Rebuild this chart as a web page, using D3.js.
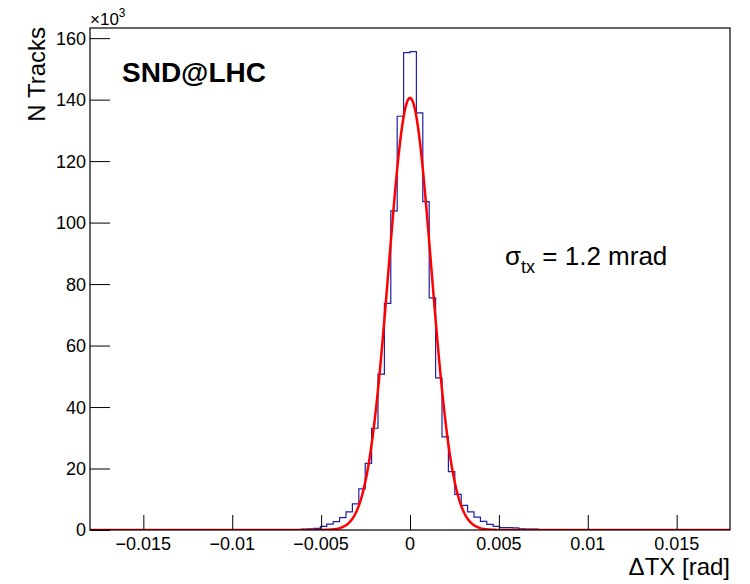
<!DOCTYPE html>
<html>
<head>
<meta charset="utf-8">
<script src="https://cdn.jsdelivr.net/npm/d3@7"></script>
<style>
body { margin: 0; background: #fff; }
text { font-family: "Liberation Sans", Arial, sans-serif; fill: #000; }
</style>
</head>
<body>
<svg id="chart"></svg>
<script>
// histogram: 100 bins of 0.00036 rad over [-0.018, 0.018], only the filled ones listed
const binWidth = 0.00036;
const firstBin = -17;
const counts = [0.3, 0.4, 0.5, 1.2, 1.9, 2.7, 4.0, 5.9, 8.5, 13.4,
    21.7, 33.1, 50.7, 73.7, 103.8, 134.6, 155.3, 155.6, 135.7, 106.8,
    75.5, 49.5, 30.3, 19.0, 11.6, 8.0, 5.9, 4.2, 2.8, 1.8,
    1.2, 0.8, 0.8, 0.7, 0.4, 0.3, 0.3];   // x 10^3 tracks

// gaussian fit parameters
const fitConst = 140.6;
const fitMean = 0;
const fitSigma = 0.0012;

const xDomain = [-0.018, 0.018];
const yDomain = [0, 163.3];
const xMajor = [-0.015, -0.01, -0.005, 0, 0.005, 0.01, 0.015];
const xLabels = ["\u22120.015", "\u22120.01", "\u22120.005", "0", "0.005", "0.01", "0.015"];
const xMinor = [-0.018, -0.017, -0.016, -0.014, -0.013, -0.012, -0.011, -0.009, -0.008, -0.007, -0.006,
    -0.004, -0.003, -0.002, -0.001, 0.001, 0.002, 0.003, 0.004, 0.006, 0.007, 0.008, 0.009,
    0.011, 0.012, 0.013, 0.014, 0.016, 0.017, 0.018];
const yMajor = [0, 20, 40, 60, 80, 100, 120, 140, 160];
const yMinor = [5, 10, 15, 25, 30, 35, 45, 50, 55, 65, 70, 75, 85, 90, 95,
    105, 110, 115, 125, 130, 135, 145, 150, 155];

const W = 750, H = 584;
const margin = {top: 28, right: 20, bottom: 54, left: 90};
const width = W - margin.left - margin.right;
const height = H - margin.top - margin.bottom;

const svg = d3.select('#chart')
    .attr('width', W)
    .attr('height', H);

const chart = svg.append('g')
    .attr('transform', `translate(${margin.left},${margin.top})`);

const x = d3.scaleLinear().domain(xDomain).range([0, width]);
const y = d3.scaleLinear().domain(yDomain).range([height, 0]);

chart.append('clipPath').attr('id', 'frameClip')
    .append('rect').attr('width', width).attr('height', height);

// histogram outline
let pts = [[xDomain[0], 0]];
counts.forEach((c, i) => {
    let lo = (firstBin + i) * binWidth;
    if (i == 0) pts.push([lo, 0]);
    pts.push([lo, c]);
    pts.push([lo + binWidth, c]);
});
pts.push([(firstBin + counts.length) * binWidth, 0]);
pts.push([xDomain[1], 0]);

const line = d3.line().x(d => x(d[0])).y(d => y(d[1]));

chart.append('path')
    .datum(pts)
    .attr('clip-path', 'url(#frameClip)')
    .attr('fill', 'none')
    .attr('stroke', '#1f1fa8')
    .attr('stroke-width', 1.2)
    .attr('d', line);

// fit curve
const fitPts = d3.range(0, 601).map(i => {
    let xv = xDomain[0] + (xDomain[1] - xDomain[0]) * i / 600;
    return [xv, fitConst * Math.exp(-0.5 * Math.pow((xv - fitMean) / fitSigma, 2))];
});

chart.append('path')
    .datum(fitPts)
    .attr('clip-path', 'url(#frameClip)')
    .attr('fill', 'none')
    .attr('stroke', '#ff0000')
    .attr('stroke-width', 2.5)
    .attr('stroke-linejoin', 'round')
    .attr('d', line);

// axes
const xAxisG = chart.append('g').attr('transform', `translate(0,${height})`);
xAxisG.call(d3.axisTop(x).tickValues(xMinor).tickSize(7.5).tickFormat(''));
xAxisG.call(d3.axisTop(x).tickValues(xMajor).tickSize(15).tickFormat(''));
xAxisG.selectAll('.domain').remove();
xAxisG.selectAll('line').attr('stroke', '#000');

chart.selectAll('.xlab')
    .data(xMajor)
    .join('text')
    .attr('class', 'xlab')
    .attr('x', d => x(d))
    .attr('y', height + 20)
    .attr('text-anchor', 'middle')
    .attr('font-size', 18)
    .text((d, i) => xLabels[i]);

const yAxisG = chart.append('g');
yAxisG.call(d3.axisRight(y).tickValues(yMinor).tickSize(10).tickFormat(''));
yAxisG.call(d3.axisRight(y).tickValues(yMajor).tickSize(20).tickFormat(''));
yAxisG.selectAll('.domain').remove();
yAxisG.selectAll('line').attr('stroke', '#000');

chart.selectAll('.ylab')
    .data(yMajor)
    .join('text')
    .attr('class', 'ylab')
    .attr('x', -4)
    .attr('y', d => y(d))
    .attr('dy', '0.36em')
    .attr('text-anchor', 'end')
    .attr('font-size', 18)
    .text(d => d);

// frame
chart.append('rect')
    .attr('width', width)
    .attr('height', height)
    .attr('fill', 'none')
    .attr('stroke', '#000')
    .attr('stroke-width', 1.2);

// exponent
const expo = svg.append('text')
    .attr('x', margin.left)
    .attr('y', 25)
    .attr('font-size', 17);
expo.append('tspan').text('\u00d710');
expo.append('tspan').attr('dy', -8).attr('font-size', 12).text('3');

// titles
svg.append('text')
    .attr('transform', `translate(45,${margin.top - 1}) rotate(-90)`)
    .attr('text-anchor', 'end')
    .attr('font-size', 24)
    .text('N Tracks');

svg.append('text')
    .attr('x', margin.left + width)
    .attr('y', 575)
    .attr('text-anchor', 'end')
    .attr('font-size', 24)
    .text('\u0394TX [rad]');

svg.append('text')
    .attr('x', 122)
    .attr('y', 81.5)
    .attr('font-size', 28)
    .attr('font-weight', 'bold')
    .text('SND@LHC');

const sig = svg.append('text')
    .attr('x', 505)
    .attr('y', 265)
    .attr('font-size', 26);
sig.append('tspan').text('\u03c3');
sig.append('tspan').attr('dy', 8).attr('font-size', 18).text('tx');
sig.append('tspan').attr('dy', -8).text(' = 1.2 mrad');
</script>
</body>
</html>
